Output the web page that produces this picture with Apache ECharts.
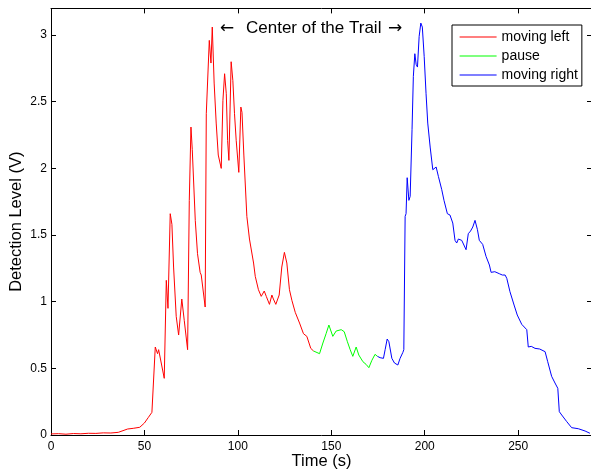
<!DOCTYPE html>
<html>
<head>
<meta charset="utf-8">
<script src="https://cdn.jsdelivr.net/npm/echarts@6/dist/echarts.min.js"></script>
<style>
html,body{margin:0;padding:0;background:#fff;}
#chart{width:591px;height:474px;}
</style>
</head>
<body>
<div id="chart"></div>
<script>
// ---- data (time in s, detection level in V) ----
var leftTime = [0,4,8,12,16,20,24,28,32,36,38,41,44,47.5,50,52,54,55.8,57,57.6,58.5,60.6,61.7,62.6,63.8,64.7,65.6,67,68.3,70,71.3,73.1,74,74.9,75.6,77.2,78.4,79.8,80.4,82.5,83.1,83.7,84.7,85.6,86.3,87.3,88.4,89.5,90.2,91.1,92,92.9,93.8,94.5,95.2,96.4,97.3,98.2,99.1,100.5,101.6,102.2,103.2,104.8,106.2,108.4,109.3,111,112.5,114.1,115.2,116.9,118.2,119,120.3,122.1,123.5,124.9,126.2,127.6,128.9,130.7,133,135.1,136.9,139,140.5];
var leftLevel = [0.008,0.01,0.006,0.011,0.009,0.013,0.012,0.016,0.015,0.02,0.03,0.045,0.05,0.058,0.09,0.13,0.17,0.66,0.61,0.64,0.64,0.425,1.16,0.95,1.66,1.58,1.26,0.89,0.75,1.02,0.86,0.64,1.76,2.31,2.14,1.61,1.36,1.22,1.2,0.96,2.41,2.41,2.96,2.79,3.06,2.64,2.34,2.1,2.1,2.0,2.51,2.71,2.56,2.21,2.06,2.8,2.66,2.41,2.21,1.97,2.46,2.42,2.1,1.64,1.47,1.29,1.19,1.09,1.04,1.08,1.04,0.98,1.05,1.02,0.98,1.05,1.26,1.37,1.29,1.09,1.01,0.92,0.84,0.76,0.74,0.65,0.63];

var pauseTime = [140.5,141.4,143.7,145.5,147.2,148.7,150.8,152.6,155.3,156.9,158.6,160.1,161.5,163.3,164.7,166.9,168.6,170.1,171.7,173.4,174.7];
var pauseLevel = [0.63,0.625,0.61,0.69,0.76,0.825,0.74,0.78,0.79,0.775,0.7,0.64,0.59,0.66,0.6,0.55,0.53,0.505,0.56,0.605,0.59];

var rightTime = [174.7,176.1,177.9,178.8,179.9,180.8,182.4,183.8,185.6,186.8,188.3,188.8,189.5,190,190.6,191.5,192.2,193.2,193.9,194.7,195.4,196.1,197,197.9,198.7,199.7,200.7,201.6,202.9,204.3,206.1,207.3,209.1,210.3,212.1,213.5,215,216.2,217.1,218,219.8,220.7,222.1,223.3,224.5,225.7,226.9,228.2,229.2,231,232.8,234.6,235.5,237.5,239.9,241.5,243,243.9,245.6,247.8,249.5,251.9,254.6,255.4,257,259,261.5,264.4,265.8,267.9,269.7,271.2,272,273.3,276,278.6,282.2,285.8,288.4];
var rightLevel = [0.59,0.58,0.575,0.64,0.72,0.7,0.575,0.54,0.525,0.575,0.62,0.64,1.64,1.66,1.93,1.76,1.79,2.29,2.69,2.86,2.78,2.76,2.99,3.09,3.06,2.84,2.56,2.34,2.16,1.99,2.01,1.94,1.84,1.76,1.66,1.65,1.59,1.46,1.44,1.47,1.46,1.47,1.39,1.51,1.53,1.56,1.61,1.54,1.46,1.43,1.34,1.275,1.22,1.225,1.21,1.2,1.2,1.175,1.075,0.975,0.9,0.83,0.79,0.66,0.665,0.65,0.645,0.625,0.55,0.44,0.39,0.35,0.175,0.15,0.1,0.055,0.047,0.03,0.013];

var seriesNames = ['moving left','pause','moving right'];
var annotationText = ['\u2190', 'Center of the Trail', '\u2192'];
var xTickMin = 0, xTickMax = 289.5, xTickStep = 50;
var yTickMin = 0, yTickMax = 3.2, yTickStep = 0.5;

function pairs(t, v){ return t.map(function(x,i){ return [x, v[i]]; }); }

var FONT = '"Liberation Sans", Arial, Helvetica, sans-serif';
var axisLineStyle = {color:'#000', width:1};

var chart = echarts.init(document.getElementById('chart'), null, {renderer:'canvas'});
chart.setOption({
  animation:false,
  backgroundColor:'#fff',
  grid:{left:51, right:-1, top:8.4, bottom:39, containLabel:false, outerBoundsMode:'none'},
  legend:{
    data:seriesNames, orient:'vertical', left:452, top:25,
    padding:[5,4,4,7], itemWidth:37, itemHeight:14, itemGap:5,
    borderColor:'#000', borderWidth:1, backgroundColor:'#fff',
    itemStyle:{opacity:0, borderWidth:0},
    lineStyle:{width:1.2},
    textStyle:{fontFamily:FONT, fontSize:14, color:'#000'},
    selectedMode:false
  },
  graphic:[
    {type:'text', left:220, top:20, style:{text:annotationText[0], font:'17px "DejaVu Sans"', fill:'#000'}},
    {type:'text', left:246, top:20, style:{text:annotationText[1], font:'17px '+FONT, fill:'#000'}},
    {type:'text', left:388, top:20, style:{text:annotationText[2], font:'17px "DejaVu Sans"', fill:'#000'}}
  ],
  xAxis:[{
    type:'value', position:'bottom', min:xTickMin, max:xTickMax, interval:xTickStep,
    axisLine:{show:true, onZero:false, lineStyle:axisLineStyle},
    axisTick:{show:true, inside:true, length:5, lineStyle:axisLineStyle},
    axisLabel:{show:true, showMaxLabel:false, color:'#000', fontSize:12, fontFamily:FONT, margin:6},
    splitLine:{show:false},
    name:'Time (s)', nameLocation:'middle', nameGap:18, nameMoveOverlap:false,
    nameTextStyle:{fontFamily:FONT, fontSize:16.5, color:'#000', verticalAlign:'top'}
  },{
    type:'value', position:'top', min:xTickMin, max:xTickMax, interval:xTickStep,
    axisLine:{show:true, onZero:false, lineStyle:axisLineStyle},
    axisTick:{show:true, inside:true, length:5, lineStyle:axisLineStyle},
    axisLabel:{show:false}, splitLine:{show:false}
  }],
  yAxis:[{
    type:'value', position:'left', min:yTickMin, max:yTickMax, interval:yTickStep,
    axisLine:{show:true, onZero:false, lineStyle:axisLineStyle},
    axisTick:{show:true, inside:true, length:5, lineStyle:axisLineStyle},
    axisLabel:{show:true, showMaxLabel:false, color:'#000', fontSize:12, fontFamily:FONT, margin:4},
    splitLine:{show:false},
    name:'Detection Level (V)', nameLocation:'middle', nameGap:26, nameMoveOverlap:false,
    nameTextStyle:{fontFamily:FONT, fontSize:16.5, color:'#000'}
  },{
    type:'value', position:'right', min:yTickMin, max:yTickMax, interval:yTickStep,
    axisLine:{show:true, onZero:false, lineStyle:axisLineStyle},
    axisTick:{show:true, inside:true, length:5, lineStyle:axisLineStyle},
    axisLabel:{show:false}, splitLine:{show:false}
  }],
  series:[
    {name:seriesNames[0], type:'line', data:pairs(leftTime,leftLevel), showSymbol:false, symbol:'none', lineStyle:{color:'#ff0000', width:1}, itemStyle:{color:'#ff0000'}, z:3},
    {name:seriesNames[1], type:'line', data:pairs(pauseTime,pauseLevel), showSymbol:false, symbol:'none', lineStyle:{color:'#00ff00', width:1}, itemStyle:{color:'#00ff00'}, z:3},
    {name:seriesNames[2], type:'line', data:pairs(rightTime,rightLevel), showSymbol:false, symbol:'none', lineStyle:{color:'#0000ff', width:1}, itemStyle:{color:'#0000ff'}, z:3}
  ]
});
</script>
</body>
</html>
